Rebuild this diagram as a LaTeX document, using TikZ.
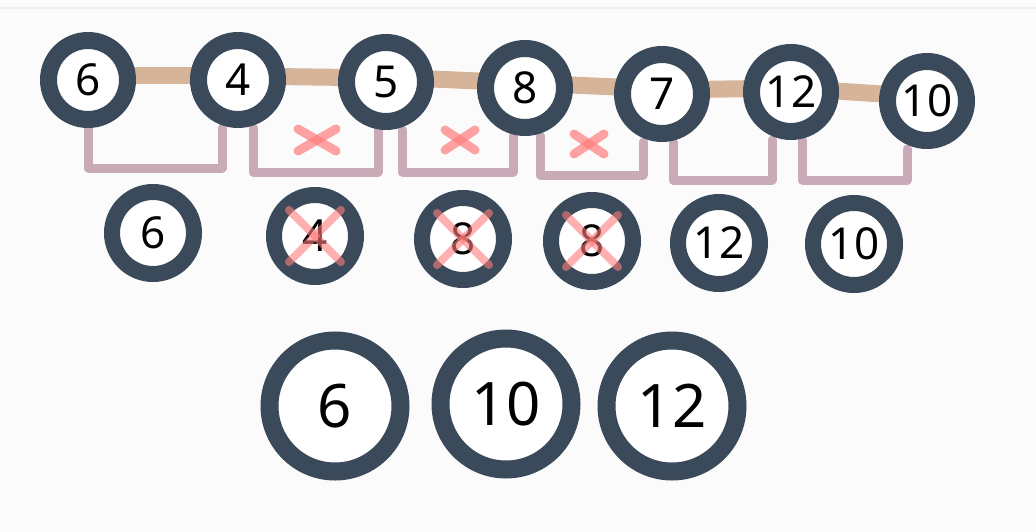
\documentclass[tikz,border=0pt]{standalone}
\usepackage{fontspec}
\setmainfont{Noto Sans}
\usetikzlibrary{backgrounds}
\definecolor{ringc}{HTML}{3A4A5B}
\definecolor{barc}{HTML}{D5B49A}
\definecolor{brackc}{HTML}{C9ABB7}
\definecolor{crossc}{HTML}{FF7C7C}
\definecolor{paper}{HTML}{FBFBFC}
\tikzset{
  ball/.style={circle, draw=ringc, fill=white, line width=17pt, minimum size=79pt, inner sep=0pt, font=\fontsize{44}{44}\selectfont},
  ballmid/.style={ball, line width=16pt, minimum size=82pt},
  ballbig/.style={ball, line width=18pt, minimum size=131pt, font=\fontsize{60}{60}\selectfont},
  link/.style={barc, line width=17pt},
  bracket/.style={brackc, line width=9pt, line cap=round, line join=round},
  nope/.style={crossc, line width=9pt, opacity=.7, line cap=round},
}
\begin{document}
\begin{tikzpicture}[x=1pt, y=-1pt]
        \useasboundingbox (0,0) rectangle (1036,532);
        \begin{scope}[on background layer]
            \fill[paper] (0,0) rectangle (1036,532);
            \draw[black!7, line width=2pt] (0,8) -- (1036,8);
        \end{scope}

        % first row
        \node[ball] (t1) at (88,80) {6};
        \node[ball] (t2) at (238,80) {4};
        \node[ball] (t3) at (386,82) {5};
        \node[ball] (t4) at (525,88) {8};
        \node[ball] (t5) at (662,94) {7};
        \node[ball] (t6) at (791,92) {12};
        \node[ball] (t7) at (927,101) {10};

        % pairs
        \node[ballmid] (m1) at (153,233) {6};
        \node[ballmid] (m2) at (315,236) {4};
        \node[ballmid] (m3) at (463,239) {8};
        \node[ballmid] (m4) at (592,241) {8};
        \node[ballmid] (m5) at (719,243) {12};
        \node[ballmid] (m6) at (854,244) {10};

        % result
        \node[ballbig] (b1) at (335,406) {6};
        \node[ballbig] (b2) at (506,404) {10};
        \node[ballbig] (b3) at (672,406) {12};

        \begin{scope}[on background layer]
            \draw[link] ([yshift=4pt]t1.center) -- ([yshift=4pt]t2.center);
            \draw[link] ([yshift=4pt]t2.center) -- ([yshift=4pt]t3.center);
            \draw[link] ([yshift=5pt]t3.center) -- ([yshift=5pt]t4.center);
            \draw[link] ([yshift=5pt]t4.center) -- ([yshift=5pt]t5.center);
            \draw[link] ([yshift=4pt]t5.center) -- ([yshift=4pt]t6.center);
            \draw[link] ([yshift=4pt]t6.center) -- ([yshift=4pt]t7.center);

            \draw[bracket] (t1.south) -- ++(0,40) -| ([xshift=-16pt]t2.south);
            \draw[bracket] ([xshift=15pt]t2.south) -- ++(0,44) -| ([xshift=-8pt]t3.south);
            \draw[bracket] ([xshift=16pt]t3.south) -- ++(0,42) -| ([xshift=-12pt]t4.south);
            \draw[bracket] ([xshift=15pt]t4.south) -- ++(0,39) -| ([xshift=-19pt]t5.south);
            \draw[bracket] ([xshift=11pt]t5.south) -- ++(0,38) -| ([xshift=-19pt]t6.south);
            \draw[bracket] ([xshift=11pt]t6.south) -- ++(0,40) -| ([xshift=-20pt]t7.south);
        \end{scope}

        % dropped pairs
        \draw[nope] (298,129) -- (336,151);
        \draw[nope] (298,151) -- (336,129);
        \draw[nope] (445,130) -- (475,150);
        \draw[nope] (445,150) -- (475,130);
        \draw[nope] (574,134) -- (604,154);
        \draw[nope] (574,154) -- (604,134);

        \draw[nope, line width=8pt, opacity=.6] ([shift={(-26pt,26pt)}]m2.center) -- ([shift={(26pt,-26pt)}]m2.center);
        \draw[nope, line width=8pt, opacity=.6] ([shift={(26pt,26pt)}]m2.center) -- ([shift={(-26pt,-26pt)}]m2.center);
        \draw[nope, line width=8pt, opacity=.6] ([shift={(-26pt,26pt)}]m3.center) -- ([shift={(26pt,-26pt)}]m3.center);
        \draw[nope, line width=8pt, opacity=.6] ([shift={(26pt,26pt)}]m3.center) -- ([shift={(-26pt,-26pt)}]m3.center);
        \draw[nope, line width=8pt, opacity=.6] ([shift={(-26pt,26pt)}]m4.center) -- ([shift={(26pt,-26pt)}]m4.center);
        \draw[nope, line width=8pt, opacity=.6] ([shift={(26pt,26pt)}]m4.center) -- ([shift={(-26pt,-26pt)}]m4.center);

    \end{tikzpicture}
\end{document}
